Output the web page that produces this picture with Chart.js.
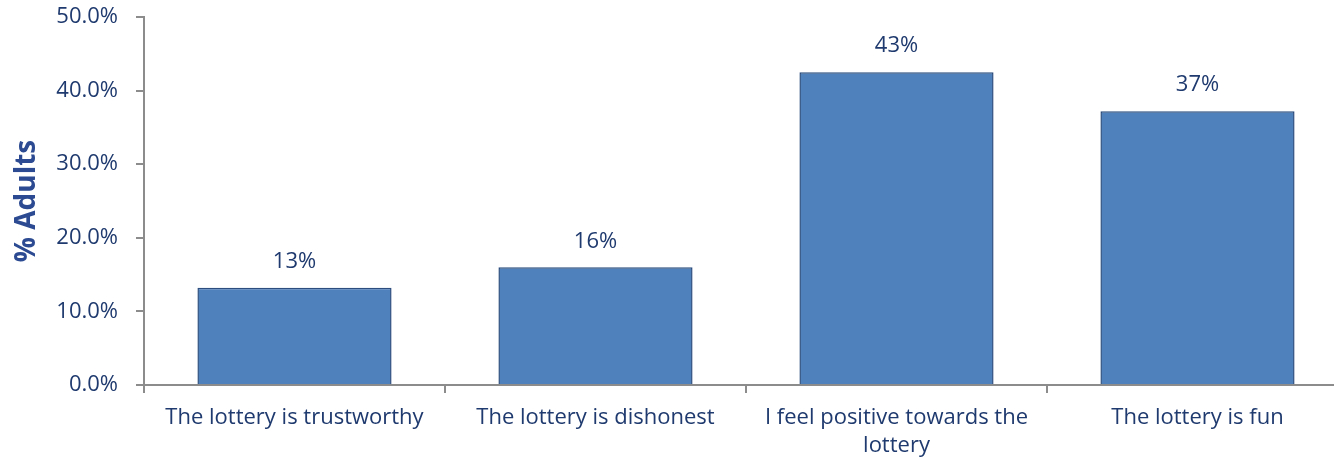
<!DOCTYPE html>
<html lang="en">
<head>
    <meta charset="UTF-8">
    <title>Lottery Attitudes</title>
    <script src="https://cdn.jsdelivr.net/npm/chart.js"></script>
    <style>
        html, body {
            margin: 0;
            padding: 0;
            background: #fff;
            overflow: hidden;
        }

        .wrap {
            width: 1348px;
            height: 458px;
        }
    </style>
</head>
<body>

<div class="wrap">
    <canvas id="lotteryChart" width="1348" height="458"></canvas>
</div>

<script>
    const categories = [
        'The lottery is trustworthy',
        'The lottery is dishonest',
        ['I feel positive towards the', 'lottery'],
        'The lottery is fun'
    ];
    const adultsPct = [13.2, 16.0, 42.5, 37.2];
    const yTicks = [0, 10, 20, 30, 40, 50];

    const navy = '#1F3A6E';

    // draws the "13%" style labels above each bar
    const barLabels = {
        id: 'barLabels',
        afterDatasetsDraw(chart) {
            const ctx = chart.ctx;
            const meta = chart.getDatasetMeta(0);
            ctx.save();
            ctx.fillStyle = navy;
            ctx.font = '22px "Open Sans", sans-serif';
            ctx.textAlign = 'center';
            ctx.textBaseline = 'middle';
            meta.data.forEach(function(bar, i) {
                ctx.fillText(Math.round(adultsPct[i]) + '%', bar.x, bar.y - 26);
            });
            ctx.restore();
        }
    };

    const ctx = document.getElementById('lotteryChart').getContext('2d');
    const lotteryChart = new Chart(ctx, {
        type: 'bar',
        data: {
            labels: categories,
            datasets: [{
                label: '% Adults',
                data: adultsPct,
                backgroundColor: '#4F81BD',
                borderColor: '#2C4D7E',
                borderWidth: 1.5,
                borderSkipped: 'bottom',
                barPercentage: 0.645,
                categoryPercentage: 1.0
            }]
        },
        plugins: [barLabels],
        options: {
            responsive: false,
            animation: false,
            layout: {
                padding: { top: 17, right: 0, bottom: 0, left: 0 }
            },
            plugins: {
                legend: { display: false },
                tooltip: { enabled: false }
            },
            scales: {
                x: {
                    border: { color: '#8C8C8C', width: 2 },
                    grid: {
                        display: true,
                        drawOnChartArea: false,
                        drawTicks: true,
                        tickLength: 8,
                        color: '#8C8C8C',
                        lineWidth: 2,
                        offset: true
                    },
                    ticks: {
                        color: navy,
                        padding: 10,
                        maxRotation: 0,
                        autoSkip: false,
                        font: { family: '"Open Sans", sans-serif', size: 22, lineHeight: 1.3 }
                    },
                    afterFit: function(scale) {
                        scale.height = 73;
                        scale.paddingLeft = 0;
                        scale.paddingRight = 0;
                    }
                },
                y: {
                    min: 0,
                    max: 50,
                    afterBuildTicks: function(scale) {
                        scale.ticks = yTicks.map(function(v) { return { value: v }; });
                    },
                    border: { color: '#8C8C8C', width: 2 },
                    grid: {
                        display: true,
                        drawOnChartArea: false,
                        drawTicks: true,
                        tickLength: 8,
                        color: '#8C8C8C',
                        lineWidth: 2
                    },
                    ticks: {
                        color: navy,
                        padding: 18,
                        callback: function(v) { return v.toFixed(1) + '%'; },
                        font: { family: '"Open Sans", sans-serif', size: 22 }
                    },
                    title: {
                        display: true,
                        text: '% Adults',
                        color: '#2B4A91',
                        padding: { top: 10, bottom: 0 },
                        font: { family: '"Open Sans", sans-serif', size: 28, weight: 'bold' }
                    },
                    afterFit: function(scale) {
                        scale.width = 144;
                        scale.paddingTop = 0;
                        scale.paddingBottom = 0;
                    }
                }
            }
        }
    });
</script>

</body>
</html>
